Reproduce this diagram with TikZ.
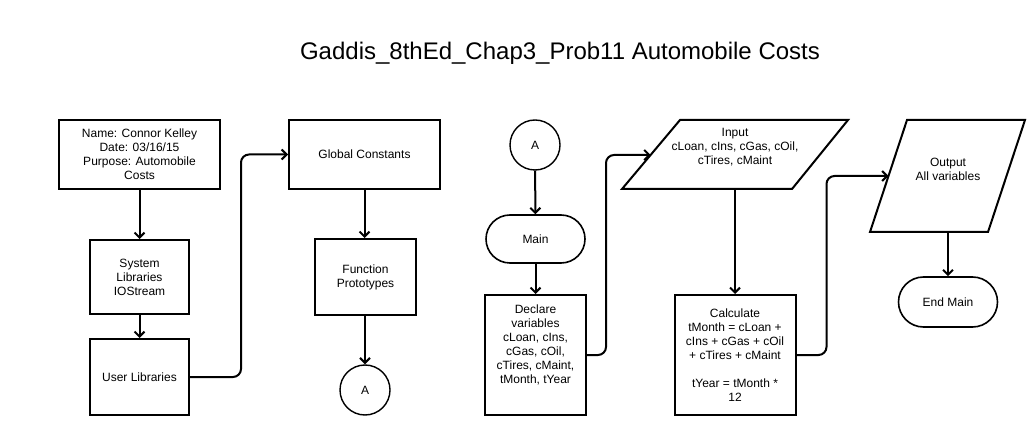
\documentclass[tikz,border=0pt]{standalone}
\usepackage{fontspec}
\setmainfont{Liberation Sans}
\usetikzlibrary{arrows.meta,shapes.geometric,shapes.misc}
\tikzset{
  txt/.style={font=\fontsize{12}{14}\selectfont, align=center, inner sep=1pt},
  boxst/.style={txt, draw, rectangle, line width=2pt},
  termst/.style={txt, draw, rounded rectangle, line width=1.6pt},
  circst/.style={txt, draw, circle, line width=1.4pt, minimum size=50},
  iost/.style={draw, line width=2pt, line join=miter},
  conn/.style={line width=2pt, -{Straight Barb[length=5pt,width=10pt]}, rounded corners=8pt},
  titlest/.style={font=\fontsize{24}{28}\selectfont}
}
\begin{document}
\begin{tikzpicture}[x=1pt,y=-1pt]
\useasboundingbox (0,0) rectangle (1030,435);
\node[titlest] (title) at (560,53) {Gaddis\_8thEd\_Chap3\_Prob11 Automobile Costs};

% left column
\node[boxst, minimum width=161, minimum height=69] (name) at (139.5,154.5) {Name: Connor Kelley\\Date: 03/16/15\\Purpose: Automobile\\Costs};
\node[boxst, minimum width=99, minimum height=74] (sys) at (139.5,277) {System\\Libraries\\IOStream};
\node[boxst, minimum width=99, minimum height=76] (user) at (139.5,377) {User Libraries};
\node[boxst, minimum width=151, minimum height=69] (glob) at (364.5,154.5) {Global Constants};
\node[boxst, minimum width=101, minimum height=76] (proto) at (365.5,277) {Function\\Prototypes};
\node[circst] (a1) at (365,390) {A};

% middle
\node[circst] (a2) at (535,145) {A};
\node[termst, minimum width=101, minimum height=48] (main) at (535.5,239) {Main};
\node[boxst, minimum width=101, minimum height=120] (decl) at (535.5,355) {Declare\\variables\\cLoan, cIns,\\cGas, cOil,\\cTires, cMaint,\\tMonth, tYear\\[7pt]};
\draw[iost] (680,120) coordinate (inTL) -- (848,120) coordinate (inTR) -- (792,189) coordinate (inBR) -- (622,189) coordinate (inBL) -- cycle;
\coordinate (inL) at (650.6,155);
\coordinate (inB) at (735,189);
\node[txt] (intext) at (735,147) {Input\\cLoan, cIns, cGas, cOil,\\cTires, cMaint};
\node[boxst, minimum width=121, minimum height=120] (calc) at (735,355) {Calculate\\tMonth = cLoan +\\cIns + cGas + cOil\\+ cTires + cMaint\\[14pt]tYear = tMonth *\\12};

% right
\draw[iost] (907,120) coordinate (outTL) -- (1025,120) coordinate (outTR) -- (988,232) coordinate (outBR) -- (870,232) coordinate (outBL) -- cycle;
\coordinate (outL) at (888.5,176);
\coordinate (outB) at (948,232);
\node[txt] (outtext) at (948,169) {Output\\All variables};
\node[termst, minimum width=101, minimum height=50] (endm) at (948,302) {End Main};

% connectors
\draw[conn] (name) -- (sys);
\draw[conn] (sys) -- (user);
\draw[conn] (user.east) -- ++(51,0) |- (glob.west);
\draw[conn] (glob.south) -- (glob.south |- proto.north);
\draw[conn] (proto.south -| a1) -- (a1);
\draw[conn] (a2) -- (main);
\draw[conn] (main) -- (decl);
\draw[conn] (decl.east) -- ++(19,0) |- (inL);
\draw[conn] (inB) -- (calc);
\draw[conn] (calc.east) -- ++(30,0) |- (outL);
\draw[conn] (outB) -- (endm);
\end{tikzpicture}
\end{document}
